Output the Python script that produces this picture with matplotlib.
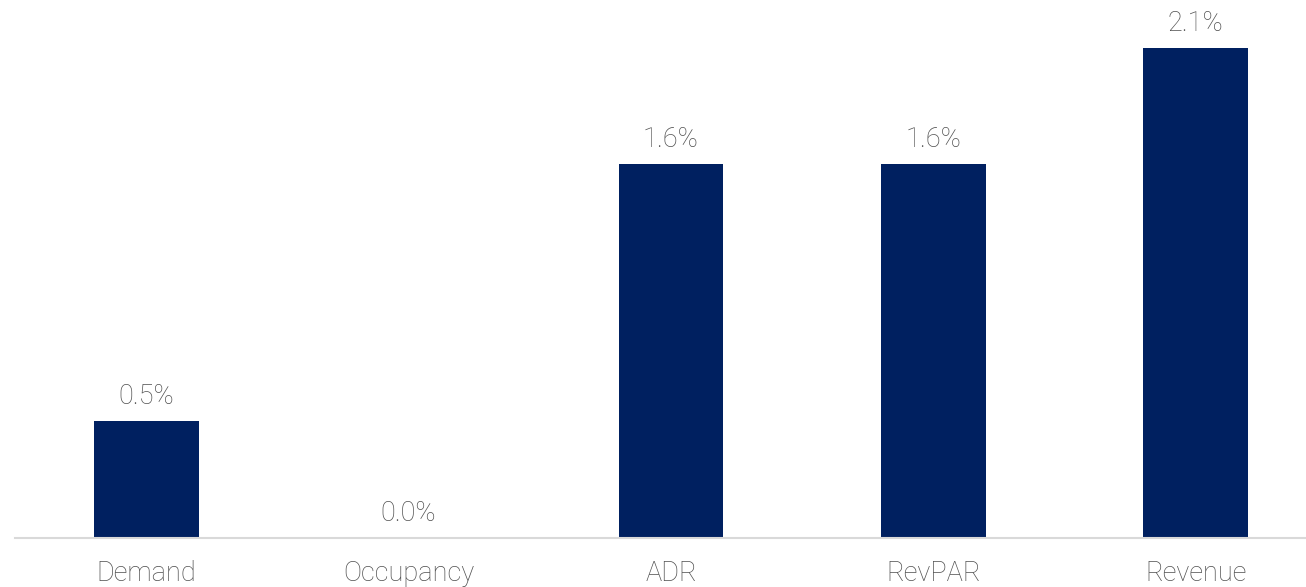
import matplotlib.pyplot as plt

# data
categories = ["Demand", "Occupancy", "ADR", "RevPAR", "Revenue"]
values = [0.5, 0.0, 1.6, 1.6, 2.1]
labels = ["0.5%", "0.0%", "1.6%", "1.6%", "2.1%"]

plt.rcParams["font.family"] = ["Roboto", "DejaVu Sans"]

fig = plt.figure(figsize=(13.06, 5.87), dpi=100)
ax = fig.add_axes([15 / 1306, 49 / 587, 1 - 15 / 1306, 1 - 49 / 587])

x = range(len(categories))
ax.bar(x, values, width=0.4, color="#002060")

for i, (v, lab) in enumerate(zip(values, labels)):
    ax.annotate(lab, (i, v), xytext=(0, 8), textcoords="offset points",
                ha="center", va="bottom", fontsize=19.5, color="#505050",
                fontweight="light")

ax.set_xlim(-0.5, 4.42)
ax.set_ylim(0, 2.304)
ax.set_xticks(list(x))
ax.set_xticklabels(categories, fontsize=19.5, color="#505050", fontweight="light")
ax.tick_params(axis="x", length=0, pad=16)
ax.set_yticks([])

for s in ["top", "right", "left"]:
    ax.spines[s].set_visible(False)
ax.spines["bottom"].set_color("#d9d9d9")
ax.spines["bottom"].set_linewidth(1.5)
ax.patch.set_alpha(0)

fig.savefig("out.png", dpi=100)
